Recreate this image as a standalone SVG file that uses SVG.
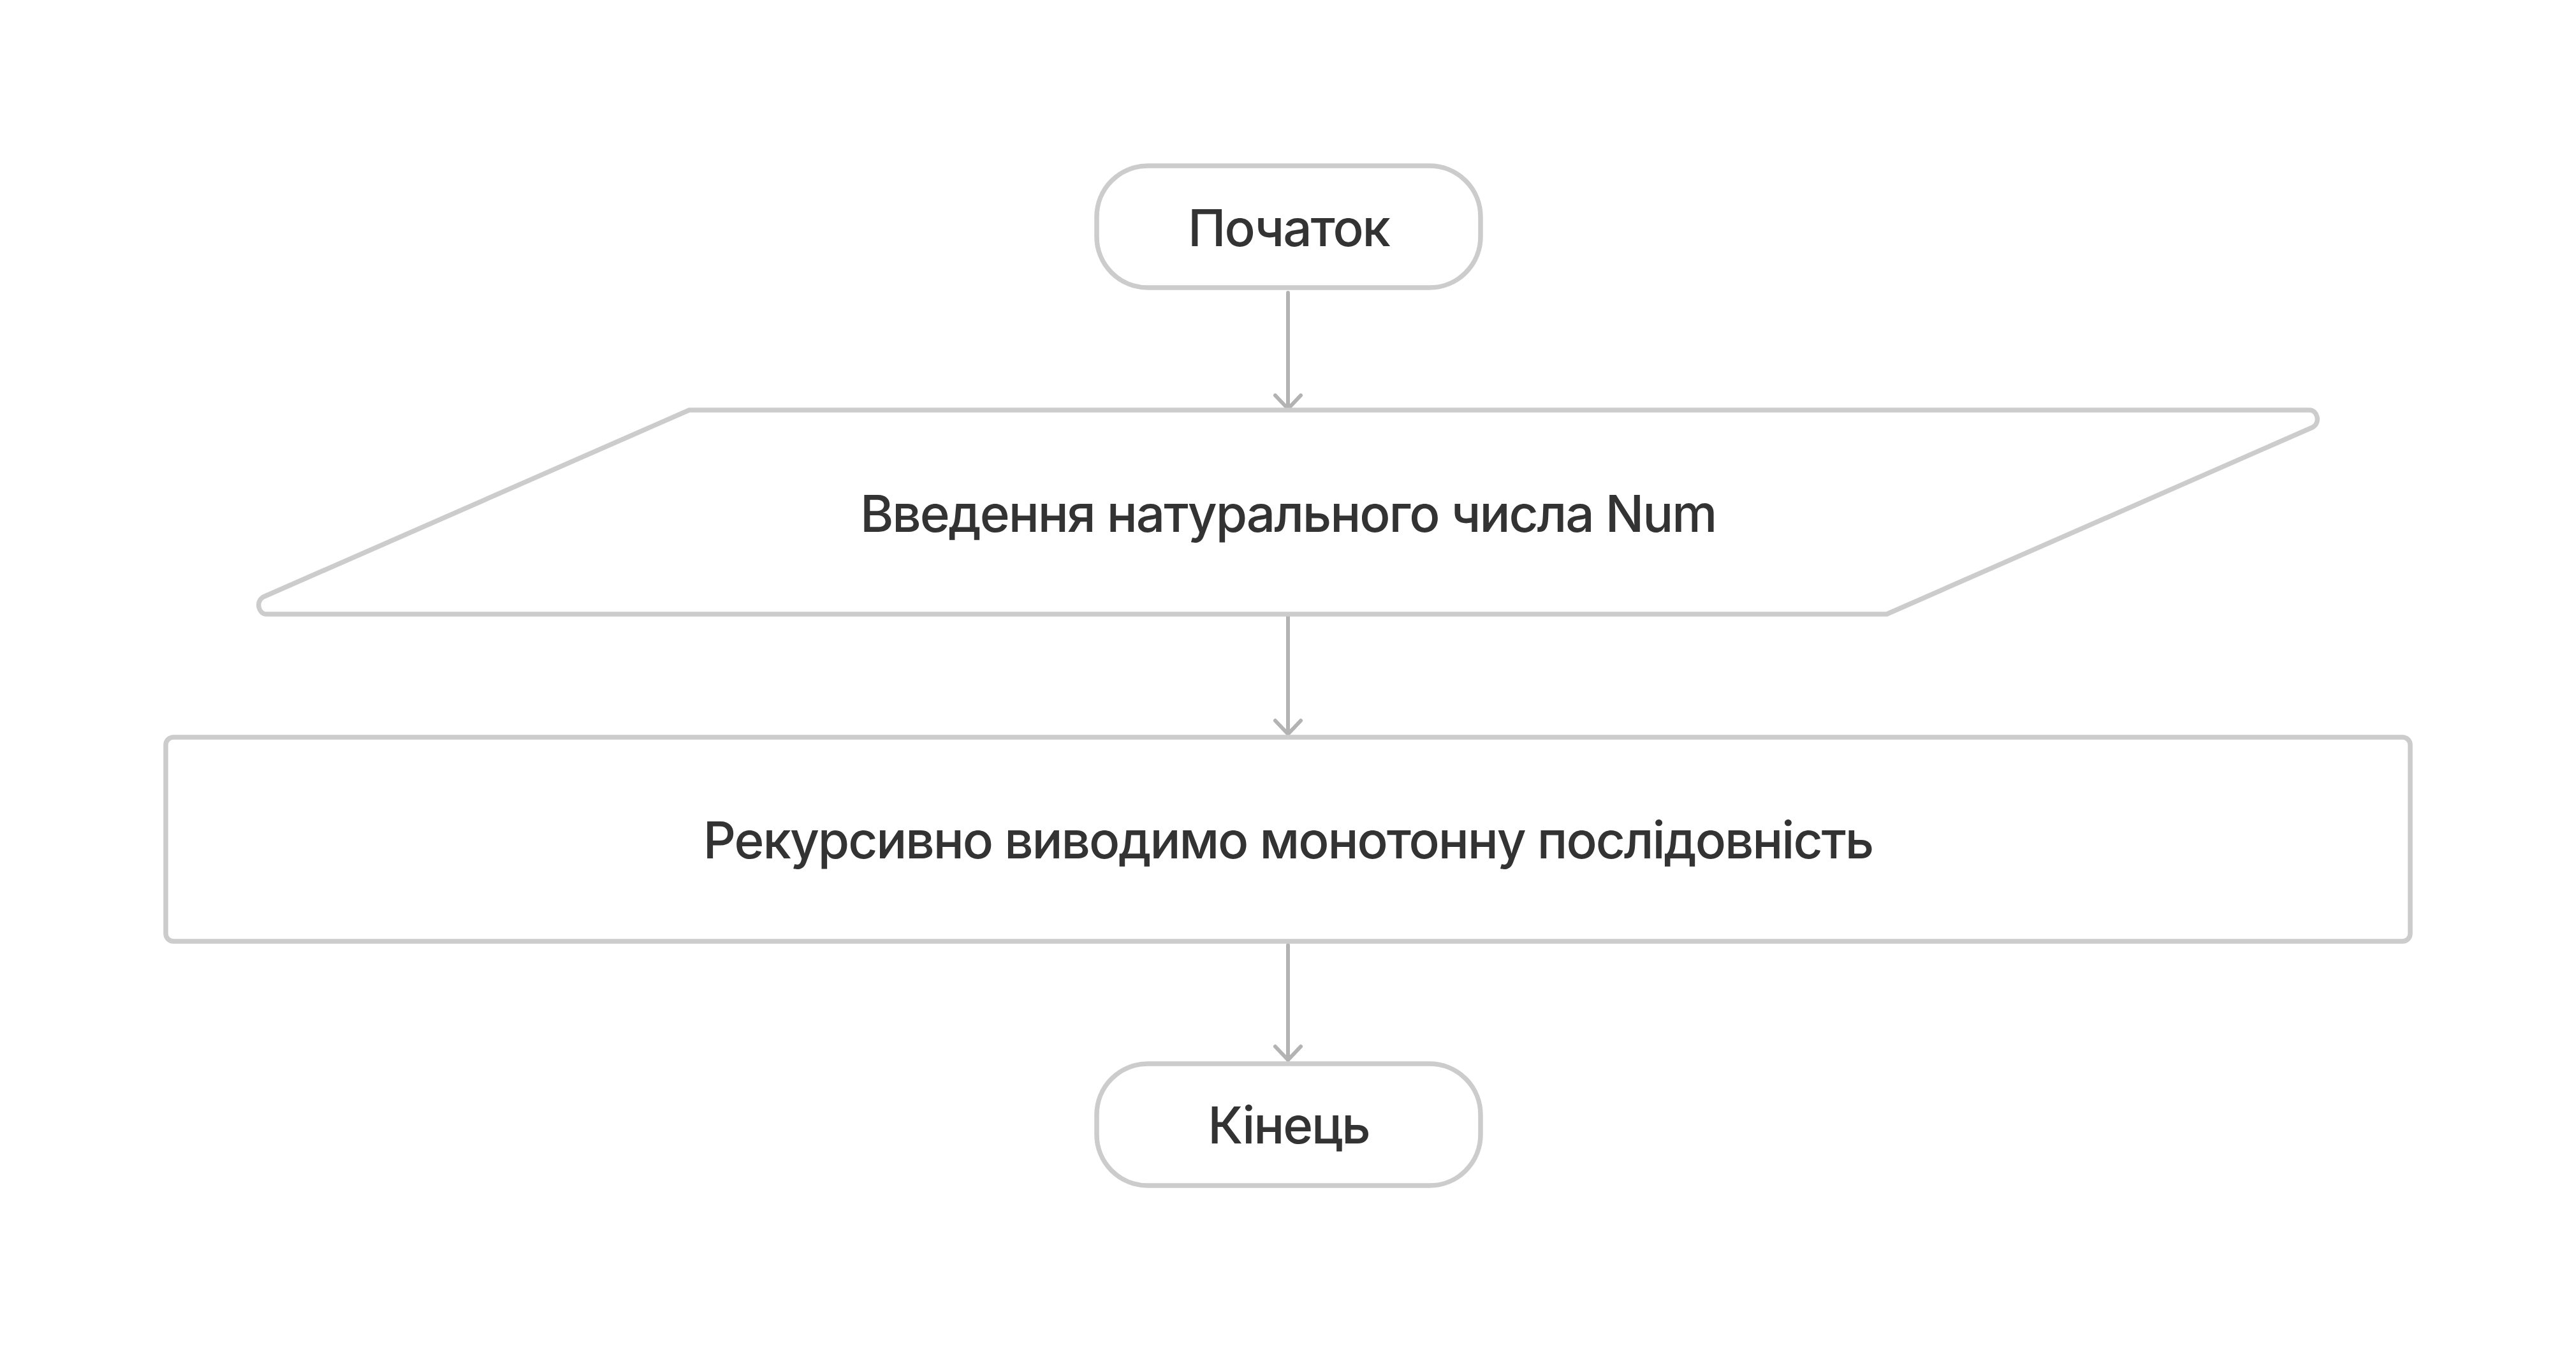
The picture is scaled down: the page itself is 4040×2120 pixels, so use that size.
<svg xmlns="http://www.w3.org/2000/svg" width="4040" height="2120" viewBox="0 0 4040 2120">
  <style>
    .shape { fill: #ffffff; stroke: #cccccc; stroke-width: 7.5; stroke-linejoin: round; }
    .label { font-family: Inter, "Noto Sans", "Liberation Sans", sans-serif; font-size: 80px; font-weight: 500; letter-spacing: -2.1px; fill: #333333; text-anchor: middle; }
    .edge { fill: none; stroke: #b3b3b3; stroke-width: 6; stroke-linecap: round; }
  </style>
  <defs>
    <marker id="chevron" markerUnits="userSpaceOnUse" markerWidth="60" markerHeight="60" refX="0" refY="0" orient="auto" overflow="visible">
      <path d="M -21,-20 L 0,0 L -21,20" fill="none" stroke="#b3b3b3" stroke-width="6" stroke-linecap="round" stroke-linejoin="round"/>
    </marker>
  </defs>
  <rect width="4040" height="2120" fill="#ffffff"/>

  <g id="connectors">
    <line class="edge" x1="2020" y1="459" x2="2020" y2="641" marker-end="url(#chevron)"/>
    <line class="edge" x1="2020" y1="964" x2="2020" y2="1151" marker-end="url(#chevron)"/>
    <line class="edge" x1="2020" y1="1482" x2="2020" y2="1662" marker-end="url(#chevron)"/>
  </g>

  <g id="start">
    <rect class="shape" x="1720" y="260" width="602" height="191" rx="80" ry="80"/>
    <text class="label" x="2021" y="386">Початок</text>
  </g>

  <g id="input">
    <path class="shape" d="M 1081,643 L 3622,643 C 3634,643 3640,662 3627,670 L 2959,963 L 418,963 C 406,963 400,944 413,936 Z"/>
    <text class="label" x="2020" y="834">Введення натурального числа Num</text>
  </g>

  <g id="process">
    <rect class="shape" x="260" y="1156" width="3520" height="320" rx="12" ry="12"/>
    <text class="label" x="2020" y="1346">Рекурсивно виводимо монотонну послідовність</text>
  </g>

  <g id="end">
    <rect class="shape" x="1720" y="1668" width="602" height="191" rx="80" ry="80"/>
    <text class="label" x="2021" y="1793">Кінець</text>
  </g>
</svg>
